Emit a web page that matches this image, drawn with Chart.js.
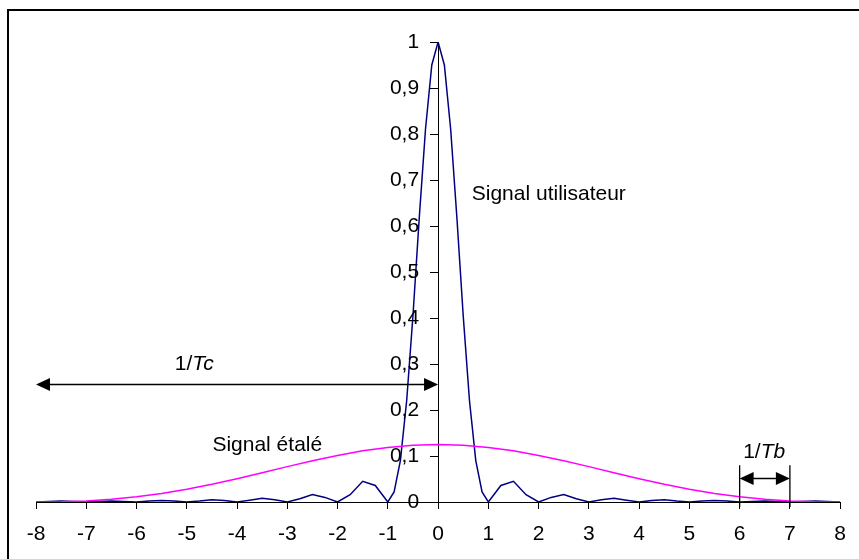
<!DOCTYPE html>
<html>
<head>
<meta charset="utf-8">
<title>Signal utilisateur / Signal étalé</title>
<script src="https://cdn.jsdelivr.net/npm/chart.js@4.4.1/dist/chart.umd.min.js"></script>
<style>
  html, body { margin: 0; padding: 0; background: #fff; }
  #wrap { width: 859px; height: 559px; position: relative; }
</style>
</head>
<body>
<div id="wrap"><canvas id="chart"></canvas></div>
<script>
// ---- data ----
const freqUser = [-8, -7.75, -7.5, -7.25, -7, -6.75, -6.5, -6.25, -6, -5.75, -5.5, -5.25, -5,
  -4.75, -4.5, -4.25, -4, -3.75, -3.5, -3.25, -3, -2.75, -2.5, -2.25, -2, -1.75, -1.5, -1.25, -1,
  -0.875, -0.75, -0.625, -0.5, -0.375, -0.25, -0.125, 0, 0.125, 0.25, 0.375, 0.5, 0.625, 0.75, 0.875,
  1, 1.25, 1.5, 1.75, 2, 2.25, 2.5, 2.75, 3, 3.25, 3.5, 3.75, 4, 4.25, 4.5, 4.75, 5, 5.25, 5.5, 5.75,
  6, 6.25, 6.5, 6.75, 7, 7.25, 7.5, 7.75, 8];
const userSignal = [0, 0.001, 0.002, 0.001, 0, 0.001, 0.002, 0.001, 0, 0.002, 0.003, 0.002, 0,
  0.002, 0.005, 0.003, 0, 0.004, 0.008, 0.005, 0, 0.007, 0.016, 0.010, 0, 0.016, 0.045, 0.036, 0,
  0.022, 0.090, 0.220, 0.405, 0.617, 0.811, 0.950, 1, 0.950, 0.811, 0.617, 0.405, 0.220, 0.090, 0.022,
  0, 0.036, 0.045, 0.016, 0, 0.010, 0.016, 0.007, 0, 0.005, 0.008, 0.004, 0, 0.003, 0.005, 0.002,
  0, 0.002, 0.003, 0.002, 0, 0.001, 0.002, 0.001, 0, 0.001, 0.002, 0.001, 0];

const freqSpread = [-8, -7.5, -7, -6.5, -6, -5.5, -5, -4.5, -4, -3.5, -3, -2.5, -2, -1.5, -1, -0.5,
  0, 0.5, 1, 1.5, 2, 2.5, 3, 3.5, 4, 4.5, 5, 5.5, 6, 6.5, 7, 7.5, 8];
const spreadSignal = [0, 0.0005, 0.0024, 0.0059, 0.0113, 0.0185, 0.0277, 0.0385, 0.0507, 0.0637,
  0.0769, 0.0897, 0.1013, 0.1112, 0.1187, 0.1234, 0.125, 0.1234, 0.1187, 0.1112, 0.1013, 0.0897,
  0.0769, 0.0637, 0.0507, 0.0385, 0.0277, 0.0185, 0.0113, 0.0059, 0.0024, 0.0005, 0];

const xTickLabels = ["-8", "-7", "-6", "-5", "-4", "-3", "-2", "-1", "0", "1", "2", "3", "4", "5", "6", "7", "8"];
const yTickLabels = ["0", "0,1", "0,2", "0,3", "0,4", "0,5", "0,6", "0,7", "0,8", "0,9", "1"];

const FONT = "'Liberation Sans', Arial, sans-serif";
const FONT_SIZE = 21;
const Y_TICK_LEN = 8;
const Y_LABEL_PAD = 11;

// arrow head helper, dir = -1 points left, +1 points right
function arrowHead(ctx, tipX, y, dir) {
  ctx.beginPath();
  ctx.moveTo(tipX, y);
  ctx.lineTo(tipX - dir * 14, y - 6.5);
  ctx.lineTo(tipX - dir * 14, y + 6.5);
  ctx.closePath();
  ctx.fill();
}

const framePlugin = {
  id: "frame",
  beforeDraw(chart) {
    const ctx = chart.ctx;
    ctx.save();
    ctx.fillStyle = "#fff";
    ctx.fillRect(0, 0, chart.width, chart.height);
    ctx.strokeStyle = "#000";
    ctx.lineWidth = 2;
    ctx.beginPath();
    ctx.moveTo(8, chart.height + 5);
    ctx.lineTo(8, 10);
    ctx.lineTo(chart.width + 5, 10);
    ctx.stroke();
    ctx.restore();
  }
};

// the y axis sits at x = 0, its labels go on the left of the tick marks
const yLabelsPlugin = {
  id: "yLabels",
  afterDraw(chart) {
    const { ctx } = chart;
    const x = chart.scales.x, y = chart.scales.y;
    const axisX = x.getPixelForValue(0);
    ctx.save();
    ctx.fillStyle = "#000";
    ctx.font = FONT_SIZE + "px " + FONT;
    ctx.textAlign = "right";
    ctx.textBaseline = "middle";
    y.ticks.forEach((t, i) => {
      ctx.fillText(yTickLabels[i], axisX - Y_TICK_LEN - Y_LABEL_PAD, y.getPixelForValue(t.value));
    });
    ctx.restore();
  }
};

const notesPlugin = {
  id: "notes",
  afterDraw(chart) {
    const { ctx } = chart;
    const x = chart.scales.x, y = chart.scales.y;
    ctx.save();
    ctx.fillStyle = "#000";
    ctx.strokeStyle = "#000";
    ctx.textBaseline = "alphabetic";
    ctx.textAlign = "left";

    const normal = FONT_SIZE + "px " + FONT;
    const italic = "italic " + FONT_SIZE + "px " + FONT;

    ctx.font = normal;
    ctx.fillText("Signal utilisateur", x.getPixelForValue(0.67), y.getPixelForValue(0.656));
    ctx.fillText("Signal étalé", x.getPixelForValue(-4.49), y.getPixelForValue(0.111));

    // label with italic part
    function mixed(px, py, a, b) {
      ctx.font = normal;
      ctx.fillText(a, px, py);
      const w = ctx.measureText(a).width;
      ctx.font = italic;
      ctx.fillText(b, px + w, py);
    }
    mixed(x.getPixelForValue(-5.24), y.getPixelForValue(0.2865), "1/", "Tc");
    mixed(x.getPixelForValue(6.07), y.getPixelForValue(0.0957), "1/", "Tb");

    // 1/Tc arrow
    const yc = Math.round(y.getPixelForValue(0.256)) + 0.5;
    const xa = x.getPixelForValue(-8), xb = x.getPixelForValue(0);
    ctx.lineWidth = 1.5;
    ctx.beginPath();
    ctx.moveTo(xa + 10, yc);
    ctx.lineTo(xb - 10, yc);
    ctx.stroke();
    arrowHead(ctx, xa, yc, -1);
    arrowHead(ctx, xb, yc, 1);

    // 1/Tb arrow with the two limit lines
    const yb = Math.round(y.getPixelForValue(0.052)) + 0.5;
    const x6 = x.getPixelForValue(6), x7 = x.getPixelForValue(7);
    ctx.lineWidth = 1.3;
    ctx.beginPath();
    ctx.moveTo(x6, y.getPixelForValue(0.08));
    ctx.lineTo(x6, y.getPixelForValue(0) + 5);
    ctx.moveTo(x7, y.getPixelForValue(0.08));
    ctx.lineTo(x7, y.getPixelForValue(0) + 5);
    ctx.stroke();
    ctx.lineWidth = 1.5;
    ctx.beginPath();
    ctx.moveTo(x6 + 10, yb);
    ctx.lineTo(x7 - 10, yb);
    ctx.stroke();
    arrowHead(ctx, x6, yb, -1);
    arrowHead(ctx, x7, yb, 1);

    ctx.restore();
  }
};

new Chart(document.getElementById("chart"), {
  type: "line",
  data: {
    datasets: [
      {
        label: "Signal étalé",
        data: freqSpread.map((f, i) => ({ x: f, y: spreadSignal[i] })),
        borderColor: "#ff00ff",
        borderWidth: 1.5,
        pointRadius: 0,
        tension: 0,
        fill: false
      },
      {
        label: "Signal utilisateur",
        data: freqUser.map((f, i) => ({ x: f, y: userSignal[i] })),
        borderColor: "#000080",
        borderWidth: 1.5,
        pointRadius: 0,
        tension: 0,
        fill: false
      }
    ]
  },
  options: {
    responsive: true,
    maintainAspectRatio: false,
    animation: false,
    layout: { padding: { top: 42, left: 36, right: 17, bottom: 0 } },
    plugins: {
      legend: { display: false },
      tooltip: { enabled: false }
    },
    scales: {
      x: {
        type: "linear",
        position: "bottom",
        min: -8,
        max: 8,
        afterFit: s => { s.height = 57; },
        ticks: {
          stepSize: 1,
          autoSkip: false,
          maxRotation: 0,
          padding: 13,
          color: "#000",
          font: { family: FONT, size: FONT_SIZE },
          callback: (v, i) => xTickLabels[i]
        },
        grid: { drawOnChartArea: false, tickLength: 7, color: "#000" },
        border: { color: "#000", width: 1 }
      },
      y: {
        type: "linear",
        position: { x: 0 },
        min: 0,
        max: 1,
        ticks: {
          stepSize: 0.1,
          autoSkip: false,
          display: false
        },
        grid: { drawOnChartArea: false, tickLength: Y_TICK_LEN, color: "#000" },
        border: { color: "#000", width: 1 }
      }
    }
  },
  plugins: [framePlugin, yLabelsPlugin, notesPlugin]
});
</script>
</body>
</html>
